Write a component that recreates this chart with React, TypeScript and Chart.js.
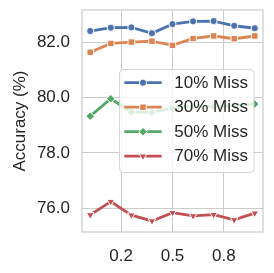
import React, { useEffect, useRef } from "react";
import { Chart, registerables } from "chart.js";

Chart.register(...registerables);

const xValues = [0.1, 0.2, 0.3, 0.4, 0.5, 0.6, 0.7, 0.8, 0.9];
const xTickValues = [0.25, 0.5, 0.75];
const xTickLabels = ["0.2", "0.5", "0.8"];
const yTickValues = [76, 78, 80, 82];
const yTickLabels = ["76.0", "78.0", "80.0", "82.0"];

const seriesNames = ["10% Miss", "30% Miss", "50% Miss", "70% Miss"];
const miss10 = [82.41, 82.53, 82.54, 82.33, 82.66, 82.76, 82.77, 82.6, 82.51];
const miss30 = [81.64, 81.96, 82.01, 82.04, 81.89, 82.14, 82.23, 82.13, 82.23];
const miss50 = [79.33, 79.96, 79.48, 79.47, 79.62, 79.7, 79.68, 79.72, 79.77];
const miss70 = [75.76, 76.24, 75.75, 75.54, 75.84, 75.72, 75.77, 75.58, 75.82];

const COLORS = ["#4C72B0", "#DD8452", "#55A868", "#C44E52"];
const STYLES = ["circle", "rect", "rectRot", "triangle"];
const RADII = [3.6, 4.6, 4.3, 4.4];
const ROTS = [0, 0, 0, 180];
const FONT = "'Liberation Sans', Arial, sans-serif";
const TEXT = "#262626";

function drawMarker(ctx: CanvasRenderingContext2D, style: string, x: number, y: number, r: number, color: string) {
  ctx.save();
  ctx.fillStyle = color;
  ctx.strokeStyle = "#ffffff";
  ctx.lineWidth = 1;
  ctx.beginPath();
  if (style === "circle") {
    ctx.arc(x, y, r, 0, Math.PI * 2);
  } else if (style === "rect") {
    const s = Math.SQRT1_2 * r;
    ctx.rect(x - s, y - s, 2 * s, 2 * s);
  } else if (style === "rectRot") {
    ctx.moveTo(x, y - r);
    ctx.lineTo(x + r, y);
    ctx.lineTo(x, y + r);
    ctx.lineTo(x - r, y);
    ctx.closePath();
  } else {
    const h = Math.sin(Math.PI / 3) * r;
    ctx.moveTo(x, y + r);
    ctx.lineTo(x + h, y - r / 2);
    ctx.lineTo(x - h, y - r / 2);
    ctx.closePath();
  }
  ctx.fill();
  ctx.stroke();
  ctx.restore();
}

const framePlugin = {
  id: "frame",
  beforeDatasetsDraw(chart: any) {
    const { ctx, chartArea } = chart;
    ctx.save();
    ctx.strokeStyle = "#cccccc";
    ctx.lineWidth = 1.25;
    ctx.strokeRect(chartArea.left, chartArea.top, chartArea.right - chartArea.left, chartArea.bottom - chartArea.top);
    ctx.restore();
  },
};

const legendPlugin = {
  id: "innerLegend",
  afterDatasetsDraw(chart: any) {
    const ctx: CanvasRenderingContext2D = chart.ctx;
    const bx = 119.5, by = 69.5, bw = 134.5, bh = 103, rr = 4;
    ctx.save();
    ctx.beginPath();
    ctx.moveTo(bx + rr, by);
    ctx.lineTo(bx + bw - rr, by);
    ctx.arcTo(bx + bw, by, bx + bw, by + rr, rr);
    ctx.lineTo(bx + bw, by + bh - rr);
    ctx.arcTo(bx + bw, by + bh, bx + bw - rr, by + bh, rr);
    ctx.lineTo(bx + rr, by + bh);
    ctx.arcTo(bx, by + bh, bx, by + bh - rr, rr);
    ctx.lineTo(bx, by + rr);
    ctx.arcTo(bx, by, bx + rr, by, rr);
    ctx.closePath();
    ctx.fillStyle = "rgba(255,255,255,0.8)";
    ctx.fill();
    ctx.strokeStyle = "rgba(204,204,204,0.8)";
    ctx.lineWidth = 1;
    ctx.stroke();

    const datasets = chart.data.datasets;
    datasets.forEach((ds: any, i: number) => {
      const y = 82.7 + i * 24.5;
      ctx.strokeStyle = ds.borderColor;
      ctx.lineWidth = 2.8;
      ctx.beginPath();
      ctx.moveTo(124.3, y);
      ctx.lineTo(161.7, y);
      ctx.stroke();
      drawMarker(ctx, STYLES[i], 143, y, RADII[i], ds.borderColor);
      ctx.fillStyle = TEXT;
      ctx.font = `17px ${FONT}`;
      ctx.textAlign = "left";
      ctx.textBaseline = "middle";
      ctx.fillText(ds.label, 174.3, y + 0.5);
    });
    ctx.restore();
  },
};

export default function App() {
  const ref = useRef<HTMLCanvasElement | null>(null);

  useEffect(() => {
    document.body.style.margin = "0";
    if (!ref.current) return;
    const all = [miss10, miss30, miss50, miss70];
    const chart = new Chart(ref.current, {
      type: "line",
      data: {
        datasets: all.map((vals, i) => ({
          label: seriesNames[i],
          data: vals.map((v, j) => ({ x: xValues[j], y: v })),
          borderColor: COLORS[i],
          backgroundColor: COLORS[i],
          pointBackgroundColor: COLORS[i],
          pointBorderColor: "#ffffff",
          pointBorderWidth: 1,
          pointStyle: STYLES[i] as any,
          pointRadius: RADII[i],
          pointRotation: ROTS[i],
          borderWidth: 2.8,
          tension: 0,
          fill: false,
        })),
      },
      options: {
        animation: false,
        responsive: false,
        layout: { padding: { top: 10, right: 11, left: 0, bottom: 0 } },
        plugins: { legend: { display: false }, tooltip: { enabled: false } },
        scales: {
          x: {
            type: "linear",
            min: 0.06,
            max: 0.94,
            afterBuildTicks: (scale: any) => {
              scale.ticks = xTickValues.map((v) => ({ value: v }));
            },
            afterFit: (scale: any) => {
              scale.height = 41;
              scale.paddingLeft = 0;
              scale.paddingRight = 0;
            },
            ticks: {
              padding: 14,
              color: TEXT,
              font: { family: FONT, size: 17 },
              maxRotation: 0,
              autoSkip: false,
              callback: (v: any) => {
                const k = xTickValues.indexOf(Number(v));
                return k >= 0 ? xTickLabels[k] : "";
              },
            },
            grid: { color: "#cccccc", lineWidth: 1, drawTicks: false },
            border: { display: false },
          },
          y: {
            type: "linear",
            min: 75.14,
            max: 83.17,
            afterBuildTicks: (scale: any) => {
              scale.ticks = yTickValues.map((v) => ({ value: v }));
            },
            afterFit: (scale: any) => {
              scale.width = 82;
              scale.paddingTop = 0;
              scale.paddingBottom = 0;
            },
            ticks: {
              padding: 12,
              color: TEXT,
              font: { family: FONT, size: 17 },
              autoSkip: false,
              callback: (v: any) => {
                const k = yTickValues.indexOf(Number(v));
                return k >= 0 ? yTickLabels[k] : "";
              },
            },
            grid: { color: "#cccccc", lineWidth: 1, drawTicks: false },
            border: { display: false },
            title: {
              display: true,
              text: "Accuracy (%)",
              color: TEXT,
              font: { family: FONT, size: 17 },
              padding: { top: 10, bottom: 0 },
            },
          },
        },
      },
      plugins: [framePlugin, legendPlugin],
    });
    return () => chart.destroy();
  }, []);

  return (
    <div style={{ width: 274, height: 273 }}>
      <canvas ref={ref} width={274} height={273} style={{ display: "block", width: 274, height: 273 }} />
    </div>
  );
}
